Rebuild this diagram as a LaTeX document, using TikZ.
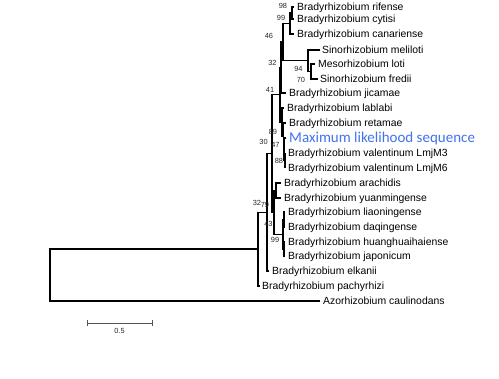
\documentclass[tikz,border=0pt]{standalone}
\usepackage{fontspec}
\setmainfont{Liberation Sans}
\newfontfamily\blfont{Carlito}
\definecolor{mlsblue}{RGB}{66,114,236}
\definecolor{bsgray}{RGB}{40,40,40}
\definecolor{sbgray}{RGB}{85,85,85}
\begin{document}
\begin{tikzpicture}[x=1pt,y=-1pt,
  br/.style={line width=1.2pt, black},
  leaf/.style={anchor=base west, inner sep=0pt, font=\fontsize{10.4}{12}\selectfont},
  mls/.style={anchor=base west, inner sep=0pt, font=\blfont\fontsize{15}{17}\selectfont, text=mlsblue},
  bs/.style={inner sep=0pt, font=\fontsize{7.4}{8}\selectfont, text=bsgray},
  scalebar/.style={line width=0.9pt, sbgray}]
\fill[white] (0,0) rectangle (499,379);
\useasboundingbox (0,0) rectangle (499,379);

% internal nodes
\coordinate (n1) at (292,13);
\coordinate (n2) at (290,23.5);
\coordinate (ns2) at (311,71.5);
\coordinate (ns1) at (308,60.75);
\coordinate (n3) at (283,42);
\coordinate (n4) at (281,67.5);
\coordinate (nv) at (285,160.5);
\coordinate (nm) at (284,149.25);
\coordinate (nr) at (283.5,136);
\coordinate (g) at (282,122);
\coordinate (n5) at (280,94.75);
\coordinate (ay) at (276,190.5);
\coordinate (lq) at (284,219.5);
\coordinate (lj) at (284,249);
\coordinate (lg) at (283,234.25);
\coordinate (m) at (274,212.4);
\coordinate (p) at (272,153.6);
\coordinate (b) at (267,212.3);
\coordinate (a) at (258,249);
\coordinate (root) at (50,275);

% leaf tips
\coordinate (t1) at (294,7);
\coordinate (t2) at (294,19);
\coordinate (t3) at (294,34);
\coordinate (t4) at (320,50);
\coordinate (t5) at (315,64);
\coordinate (t6) at (318,79);
\coordinate (t7) at (286,93);
\coordinate (t8) at (284,108);
\coordinate (t9) at (286,123);
\coordinate (t10) at (286,138);
\coordinate (t11) at (285,153);
\coordinate (t12) at (285,168);
\coordinate (t13) at (281,183);
\coordinate (t14) at (281,198);
\coordinate (t15) at (285,212);
\coordinate (t16) at (285,227);
\coordinate (t17) at (285,242);
\coordinate (t18) at (285,256);
\coordinate (t19) at (269,271);
\coordinate (t20) at (260,286);
\coordinate (t21) at (320,301);

% leaf labels
\node[leaf] (l1) at (297,10.7) {Bradyrhizobium rifense};
\node[leaf] (l2) at (297,22.7) {Bradyrhizobium cytisi};
\node[leaf] (l3) at (297,37.7) {Bradyrhizobium canariense};
\node[leaf] (l4) at (322,53.7) {Sinorhizobium meliloti};
\node[leaf] (l5) at (318,67.7) {Mesorhizobium loti};
\node[leaf] (l6) at (320,82.7) {Sinorhizobium fredii};
\node[leaf] (l7) at (289,96.7) {Bradyrhizobium jicamae};
\node[leaf] (l8) at (287,111.7) {Bradyrhizobium lablabi};
\node[leaf] (l9) at (289,126.7) {Bradyrhizobium retamae};
\node[mls] (l10) at (289,142.8) {Maximum likelihood sequence};
\node[leaf] (l11) at (288,156.7) {Bradyrhizobium valentinum LmjM3};
\node[leaf] (l12) at (288,171.7) {Bradyrhizobium valentinum LmjM6};
\node[leaf] (l13) at (284,186.7) {Bradyrhizobium arachidis};
\node[leaf] (l14) at (284,201.7) {Bradyrhizobium yuanmingense};
\node[leaf] (l15) at (288,215.7) {Bradyrhizobium liaoningense};
\node[leaf] (l16) at (288,230.7) {Bradyrhizobium daqingense};
\node[leaf] (l17) at (288,245.7) {Bradyrhizobium huanghuaihaiense};
\node[leaf] (l18) at (288,259.7) {Bradyrhizobium japonicum};
\node[leaf] (l19) at (272,274.7) {Bradyrhizobium elkanii};
\node[leaf] (l20) at (262,289.7) {Bradyrhizobium pachyrhizi};
\node[leaf] (l21) at (323,304.7) {Azorhizobium caulinodans};

% branches
\draw[br] (n1) |- (t1);
\draw[br] (n1) |- (t2);
\draw[br] (n2) |- (n1);
\draw[br] (n2) |- (t3);
\draw[br] (ns2) |- (t5);
\draw[br] (ns2) |- (t6);
\draw[br] (ns1) |- (t4);
\draw[br] (ns1) |- (ns2);
\draw[br] (n3) |- (n2);
\draw[br] (n3) |- (ns1);
\draw[br] (n4) |- (n3);
\draw[br] (n4) |- (t7);
\draw[br] (nv) |- (t11);
\draw[br] (nv) |- (t12);
\draw[br] (nm) |- (t10);
\draw[br] (nm) |- (nv);
\draw[br] (nr) |- (t9);
\draw[br] (nr) |- (nm);
\draw[br] (g) |- (t8);
\draw[br] (g) |- (nr);
\draw[br] (n5) |- (n4);
\draw[br] (n5) |- (g);
\draw[br] (ay) |- (t13);
\draw[br] (ay) |- (t14);
\draw[br] (lq) |- (t15);
\draw[br] (lq) |- (t16);
\draw[br] (lj) |- (t17);
\draw[br] (lj) |- (t18);
\draw[br] (lg) |- (lq);
\draw[br] (lg) |- (lj);
\draw[br] (m) |- (ay);
\draw[br] (m) |- (lg);
\draw[br] (p) |- (n5);
\draw[br] (p) |- (m);
\draw[br] (b) |- (p);
\draw[br] (b) |- (t19);
\draw[br] (a) |- (b);
\draw[br] (a) |- (t20);
\draw[br] (root) |- (a);
\draw[br] (root) |- (t21);

% bootstrap values
\node[bs] (b98) at (283,6) {98};
\node[bs] (b99a) at (281,17.5) {99};
\node[bs] (b46) at (269,35.5) {46};
\node[bs] (b32a) at (272.5,62.5) {32};
\node[bs] (b94) at (298.5,68.5) {94};
\node[bs] (b70) at (301,80) {70};
\node[bs] (b41) at (270,89.5) {41};
\node[bs] (b89) at (273,131.5) {89};
\node[bs] (b30) at (263.5,141.5) {30};
\node[bs] (b47) at (275.5,144.5) {47};
\node[bs] (b88) at (279,160.5) {88};
\node[bs] (b32b) at (257,202.5) {32};
\node[bs] (b79) at (265,205) {79};
\node[bs] (b43) at (268.5,223.5) {43};
\node[bs] (b99b) at (275,240) {99};

% scale bar
\coordinate (sb1) at (87,323);
\coordinate (sb2) at (152,323);
\draw[scalebar] (sb1) -- (sb2);
\draw[scalebar] ([yshift=-3pt]sb1) -- ([yshift=3pt]sb1);
\draw[scalebar] ([yshift=-3pt]sb2) -- ([yshift=3pt]sb2);
\node[bs] (sbl) at (119.5,331) {0.5};
\end{tikzpicture}
\end{document}
